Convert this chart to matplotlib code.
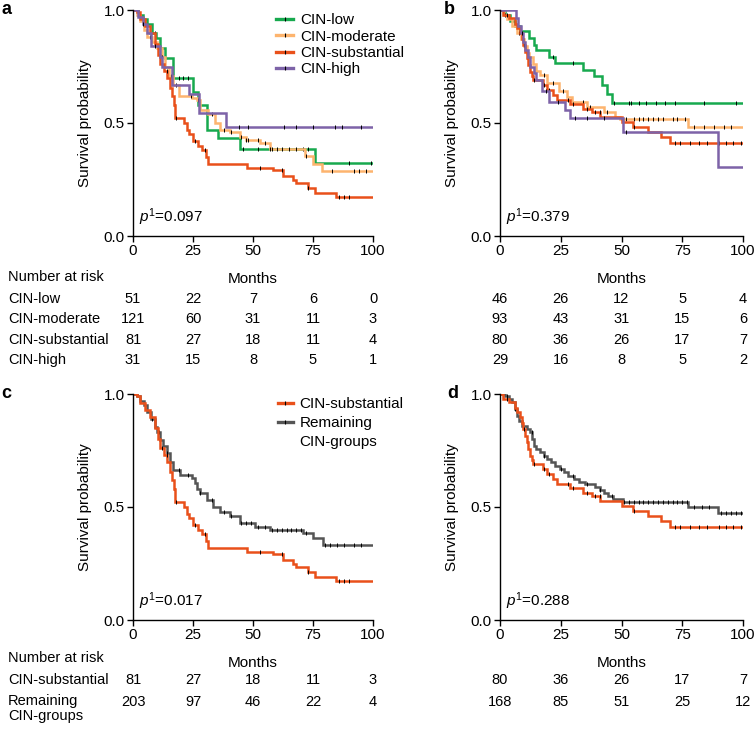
import numpy as np
import matplotlib
matplotlib.use("Agg")
import matplotlib.pyplot as plt
from matplotlib.lines import Line2D

#------------ Data ---------
# each curve: event times (months) and survival after that time

# panel a (left column, four CIN groups)
a_low_t = [0, 2, 4, 6, 8, 9.5, 11.2, 13.3, 16.5, 25, 27.2, 30.7, 35.5, 44.6, 76]
a_low_s = [1, 0.98, 0.96, 0.94, 0.90, 0.875, 0.83, 0.786, 0.70, 0.636, 0.58, 0.47, 0.435, 0.385, 0.324]
a_low_c = [9, 19, 21, 23, 46, 52, 71, 73, 90, 99]

a_mod_t = [0, 1.5, 3, 4.5, 6, 8, 10, 12, 13.5, 15, 16.5, 19, 24.5, 26.5, 27.9, 31.4, 34.2, 36.3,
           40.4, 44.6, 47, 52.9, 57, 71.7, 75.1, 78.6]
a_mod_s = [1, 0.98, 0.95, 0.91, 0.88, 0.86, 0.83, 0.79, 0.75, 0.71, 0.67, 0.62, 0.61, 0.60, 0.557,
           0.54, 0.50, 0.47, 0.46, 0.44, 0.425, 0.41, 0.385, 0.354, 0.32, 0.289]
a_mod_c = [2, 7, 12, 16, 18, 24, 27, 33, 38, 41, 45, 47, 48, 52, 55, 57, 58, 60, 62, 65, 68, 72,
           83, 92, 94, 97]

sub_a_t = [0, 1.5, 3, 5, 7, 9, 10.5, 11.3, 12.8, 14.2, 15.6, 16.3, 17, 17.7, 21.2, 22.5, 23.3, 25.2,
           27, 28.6, 30.3, 31.2, 47.4, 58.5, 62.6, 66.8, 68, 73, 75.8, 84.6]
sub_a_s = [1, 0.99, 0.96, 0.93, 0.90, 0.85, 0.80, 0.76, 0.73, 0.70, 0.655, 0.62, 0.58, 0.52, 0.50,
           0.47, 0.45, 0.42, 0.40, 0.38, 0.35, 0.317, 0.303, 0.29, 0.265, 0.248, 0.233, 0.211,
           0.192, 0.171]
sub_a_c = [12, 14, 18, 26, 30, 53, 62, 73, 86, 88, 90]

a_high_t = [0, 2, 4, 6, 7.5, 11.2, 12, 16.3, 23.5, 27.4, 38.7]
a_high_s = [1, 0.97, 0.94, 0.90, 0.84, 0.79, 0.75, 0.668, 0.627, 0.543, 0.484]
a_high_c = [4, 9, 44, 48, 63, 68, 75, 84, 87, 95]

# panel b (right column, four CIN groups)
b_low_t = [0, 2, 4, 6, 8.2, 11.8, 13.8, 15, 20.3, 22.7, 34.1, 38.5, 41.9, 44, 46]
b_low_s = [1, 0.98, 0.95, 0.93, 0.907, 0.875, 0.845, 0.823, 0.793, 0.764, 0.735, 0.706, 0.668,
           0.627, 0.587]
b_low_c = [22, 30, 47, 53, 54, 57, 60, 64, 68, 72, 84, 97]

b_mod_t = [0, 1.5, 3, 5, 7, 8.5, 9.9, 11, 12, 13.6, 15, 16.6, 19.3, 24.1, 27.5, 29.6, 35.8, 42.6,
           47.4, 49.3, 77.4]
b_mod_s = [1, 0.98, 0.96, 0.93, 0.90, 0.87, 0.84, 0.81, 0.79, 0.76, 0.73, 0.712, 0.676, 0.64,
           0.617, 0.594, 0.572, 0.55, 0.528, 0.518, 0.484]
b_mod_c = [2, 8, 18, 22, 26, 34, 37, 44, 52, 55, 57, 59, 61, 63, 65, 67, 71, 73, 76, 80, 84, 88,
           92, 95]

sub_b_t = [0, 1.4, 3.5, 6.2, 7.2, 8.2, 9, 9.6, 10.3, 11, 11.6, 12.3, 13, 13.7, 17.8, 19.2, 21.9,
           23.3, 28.8, 34.2, 38, 41.1, 50, 54.8, 61, 66.4, 69.9]
sub_b_s = [1, 0.978, 0.963, 0.94, 0.92, 0.90, 0.87, 0.845, 0.815, 0.786, 0.757, 0.727, 0.71, 0.69,
           0.668, 0.645, 0.623, 0.601, 0.586, 0.564, 0.55, 0.527, 0.505, 0.483, 0.46, 0.439, 0.412]
sub_b_c = [3, 10, 14, 18, 20, 28, 30, 36, 39, 41, 55, 72, 74, 78, 82, 85, 90, 93, 96, 99]

b_high_t = [0, 6.5, 7.5, 8.5, 9.5, 10.4, 11.5, 12.5, 13.8, 15, 17.3, 20, 26.8, 28.9, 50.7, 89.7]
b_high_s = [1, 0.965, 0.93, 0.90, 0.86, 0.823, 0.79, 0.75, 0.72, 0.69, 0.64, 0.594, 0.557, 0.52,
            0.459, 0.304]
b_high_c = [9, 19, 24, 31, 36, 43, 52]

# panel c / d: remaining CIN groups
c_rem_t = [0, 1.5, 3, 4.5, 6, 7.5, 9.2, 10.2, 11.25, 12.6, 14, 15.4, 16.8, 19.6, 24.4, 25.8, 26.8,
           27.9, 30.7, 33.5, 36.25, 40.4, 44.6, 50.8, 57, 71, 75.1, 79.3]
c_rem_s = [1, 0.99, 0.97, 0.95, 0.92, 0.89, 0.856, 0.83, 0.797, 0.77, 0.738, 0.70, 0.665, 0.643,
           0.628, 0.605, 0.58, 0.561, 0.532, 0.502, 0.48, 0.461, 0.428, 0.413, 0.399, 0.384, 0.362,
           0.332]
c_rem_c = [3, 8, 11, 14, 19, 23, 28, 33, 38, 41, 45, 47, 49, 52, 55, 58, 60, 62, 64, 66, 68, 70,
           72, 80, 82, 85, 88, 92, 95]

d_rem_t = [0, 2, 3.5, 4.9, 6, 7, 8, 9, 11, 12.5, 13.2, 13.8, 15, 16.6, 18, 19.3, 21, 22.7, 24.5,
           26.2, 28, 30.3, 32.5, 35.1, 39.2, 41, 42.6, 44.5, 46.7, 50.8, 77.5, 89.9]
d_rem_s = [1, 0.99, 0.98, 0.963, 0.935, 0.904, 0.88, 0.86, 0.845, 0.83, 0.80, 0.771, 0.755, 0.742,
           0.727, 0.712, 0.697, 0.682, 0.668, 0.653, 0.638, 0.623, 0.612, 0.601, 0.587, 0.575,
           0.564, 0.55, 0.535, 0.523, 0.502, 0.473]
d_rem_c = [3, 6, 13, 18, 25, 30, 36, 41, 46, 51, 53, 55, 57, 59, 61, 63, 65, 67, 69, 71, 73, 75,
           77, 80, 83, 86, 91, 93, 95, 97, 99]

# numbers at risk
risk_times = [0, 25, 50, 75, 100]
groups4 = ["CIN-low", "CIN-moderate", "CIN-substantial", "CIN-high"]
risk_a = [[51, 22, 7, 6, 0], [121, 60, 31, 11, 3], [81, 27, 18, 11, 4], [31, 15, 8, 5, 1]]
risk_b = [[46, 26, 12, 5, 4], [93, 43, 31, 15, 6], [80, 36, 26, 17, 7], [29, 16, 8, 5, 2]]
groups2 = ["CIN-substantial", "Remaining\nCIN-groups"]
risk_c = [[81, 27, 18, 11, 3], [203, 97, 46, 22, 4]]
risk_d = [[80, 36, 26, 17, 7], [168, 85, 51, 25, 12]]

p_vals = ["0.097", "0.379", "0.017", "0.288"]

#------------ Style ---------
GREEN = "#17a94e"
LORANGE = "#fdb46e"
RED = "#e9501a"
PURPLE = "#7d63a8"
GREY = "#555555"

FS = 11
plt.rcParams["font.family"] = ["Liberation Sans", "DejaVu Sans"]
plt.rcParams["font.size"] = FS
plt.rcParams["mathtext.fontset"] = "custom"
plt.rcParams["mathtext.rm"] = "Liberation Sans"
plt.rcParams["mathtext.it"] = "Liberation Sans:italic"

W, H = 756, 731
fig = plt.figure(figsize=(W / 100, H / 100), dpi=100)


def px_axes(x0, x1, y0, y1):
    return fig.add_axes([x0 / W, 1 - y1 / H, (x1 - x0) / W, (y1 - y0) / H])


def km(ax, t, s, cens, color):
    t = list(t) + [100]
    s = list(s) + [s[-1]]
    ax.step(t, s, where="post", color=color, lw=1.8, solid_joinstyle="miter")
    idx = np.searchsorted(np.array(t), np.array(cens), side="right") - 1
    ax.plot(cens, np.array(s)[idx], ls="none", marker="|", color="black", ms=2.4, mew=0.7)


def style(ax, p):
    ax.set_xlim(0, 100)
    ax.set_ylim(0, 1)
    ax.set_xticks(risk_times)
    ax.set_yticks([0, 0.5, 1.0])
    ax.set_yticklabels(["0.0", "0.5", "1.0"])
    for sp in ["top", "right"]:
        ax.spines[sp].set_visible(False)
    ax.spines["left"].set_linewidth(1.0)
    ax.spines["bottom"].set_linewidth(1.0)
    ax.tick_params(direction="out", length=4, width=1.0, labelsize=FS, pad=2)
    ax.set_ylabel("Survival probability", fontsize=FS, labelpad=8)
    ax.set_xlabel("Months", fontsize=FS, labelpad=10)
    ax.text(0.025, 0.035, r"$\mathit{p}^{1}$=" + p, transform=ax.transAxes, fontsize=FS,
            ha="left", va="bottom")


def risk_table(ax, rows, y_px):
    for vals, yy in zip(rows, y_px):
        for tt, v in zip(risk_times, vals):
            x = ax.transData.transform((tt, 0))[0]
            fig.text(x / W, 1 - yy / H, str(v), ha="center", va="center", fontsize=10.5)


ax_a = px_axes(133, 373, 10, 236)
ax_b = px_axes(500, 743, 10, 236)
ax_c = px_axes(133, 373, 394, 620)
ax_d = px_axes(500, 743, 394, 620)

km(ax_a, a_low_t, a_low_s, a_low_c, GREEN)
km(ax_a, a_mod_t, a_mod_s, a_mod_c, LORANGE)
km(ax_a, sub_a_t, sub_a_s, sub_a_c, RED)
km(ax_a, a_high_t, a_high_s, a_high_c, PURPLE)

km(ax_b, b_low_t, b_low_s, b_low_c, GREEN)
km(ax_b, b_mod_t, b_mod_s, b_mod_c, LORANGE)
km(ax_b, sub_b_t, sub_b_s, sub_b_c, RED)
km(ax_b, b_high_t, b_high_s, b_high_c, PURPLE)

km(ax_c, c_rem_t, c_rem_s, c_rem_c, GREY)
km(ax_c, sub_a_t, sub_a_s, sub_a_c, RED)

km(ax_d, d_rem_t, d_rem_s, d_rem_c, GREY)
km(ax_d, sub_b_t, sub_b_s, sub_b_c, RED)

for ax, p in zip([ax_a, ax_b, ax_c, ax_d], p_vals):
    style(ax, p)

# legends
h4 = [Line2D([], [], color=c, lw=2.4, marker="|", mec="black", ms=3, mew=0.8)
      for c in [GREEN, LORANGE, RED, PURPLE]]
ax_a.legend(h4, groups4, loc="upper left", bbox_to_anchor=(0.597, 0.985), frameon=False,
            handlelength=1.1, handletextpad=0.45, labelspacing=0.15, borderpad=0,
            borderaxespad=0, numpoints=1, fontsize=FS)
h3 = [Line2D([], [], color=c, lw=2.4, marker="|", mec="black", ms=3, mew=0.8)
      for c in [RED, GREY]] + [Line2D([], [], color="none")]
ax_c.legend(h3, ["CIN-substantial", "Remaining", "CIN-groups"], loc="upper left",
            bbox_to_anchor=(0.605, 0.985), frameon=False, handlelength=0.95, handletextpad=0.45,
            labelspacing=0.3, borderpad=0, borderaxespad=0, numpoints=1, fontsize=FS)

# panel letters
for lab, x, y in [("a", 1, 10), ("b", 444, 10), ("c", 1, 394), ("d", 447, 394)]:
    fig.text(x / W, 1 - y / H, lab, fontsize=13, fontweight="bold", ha="left", va="center")

# risk tables
fig.text(8 / W, 1 - 277 / H, "Number at risk", fontsize=10.5, va="center")
rows_a = [299, 319, 340, 360]
for g, yy in zip(groups4, rows_a):
    fig.text(8 / W, 1 - yy / H, g, fontsize=10.5, va="center")
risk_table(ax_a, risk_a, rows_a)
risk_table(ax_b, risk_b, rows_a)

fig.text(8 / W, 1 - 658 / H, "Number at risk", fontsize=10.5, va="center")
rows_c = [680, 702]
fig.text(8 / W, 1 - rows_c[0] / H, groups2[0], fontsize=10.5, va="center")
fig.text(8 / W, 1 - (rows_c[1] - 8) / H, groups2[1], fontsize=10.5, va="top", linespacing=1.1)
risk_table(ax_c, risk_c, rows_c)
risk_table(ax_d, risk_d, rows_c)

fig.savefig("out.png", dpi=100)
